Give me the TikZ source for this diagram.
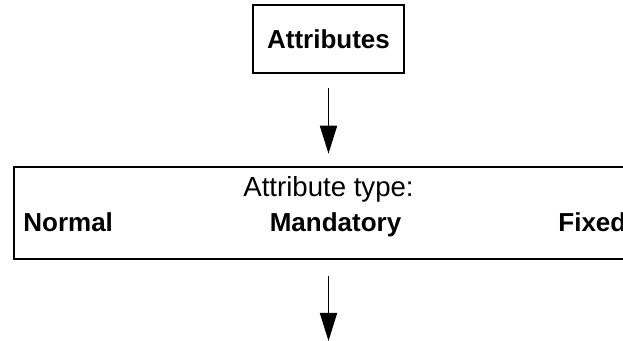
\documentclass[tikz,border=0pt]{standalone}
\usepackage{fontspec}
\setmainfont{Liberation Sans}
\usetikzlibrary{arrows.meta,positioning}

\begin{document}
\begin{tikzpicture}[x=0.5pt, y=-0.5pt,
  % ── boxes ──
  box/.style={draw=black, rectangle, line width=1pt, inner sep=0pt},
  % ── texts ──
  bold/.style={inner sep=0pt, font=\fontsize{13}{15}\selectfont\bfseries},
  plain/.style={inner sep=0pt, font=\fontsize{13.8}{16}\selectfont},
  % ── arrows ──
  arr/.style={-{Triangle[length=14pt,width=8.5pt]}, line width=0.9pt, black},
]

%% ─── page frame (623 x 341 px) ─────────────────────────────────
\useasboundingbox (0,0) rectangle (623,341);
\clip (0,0) rectangle (623,341);

\def\mx{328.5}  % middle axis x
\def\ty{197}    % "Attribute type:" baseline
\def\ly{232}    % type labels baseline

%% ─── 1. Top box ────────────────────────────────────────────────
\node[box, bold, minimum width=75.5pt, minimum height=34pt]
  (attr) at (\mx,39) {Attributes};

%% ─── 2. Attribute type box (runs past the right edge) ──────────
\node[box, minimum width=314.5pt, minimum height=46pt]
  (types) at (\mx,212.7) {};
\node[plain, anchor=base] (typehead) at (\mx,\ty) {Attribute type:};
\node[bold, anchor=base west] (normal)    at (23,\ly)    {Normal};
\node[bold, anchor=base]      (mandatory) at (335.5,\ly) {Mandatory};
\node[bold, anchor=base west] (fixed)     at (558,\ly)   {Fixed};

%% ─── 3. Arrows ─────────────────────────────────────────────────
\coordinate (out) at (\mx,341);
\draw[arr, shorten <=7pt, shorten >=6pt] (attr.south) -- (types.north);
\draw[arr, shorten <=8pt] (types.south) -- (out);

\end{tikzpicture}
\end{document}
